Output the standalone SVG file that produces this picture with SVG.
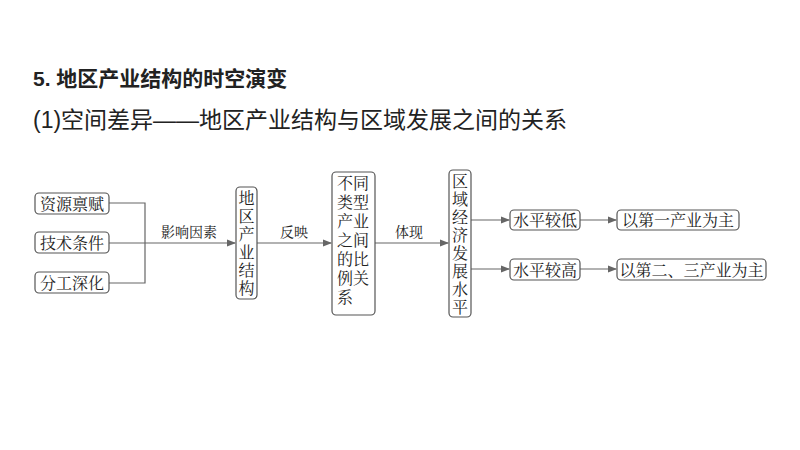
<svg xmlns="http://www.w3.org/2000/svg" width="800" height="450" viewBox="0 0 800 450">
<defs>
<style>
text{font-family:"Liberation Serif","Noto Serif CJK SC","Noto Sans CJK SC",serif;fill:#222}
.b{fill:#fff;stroke:#555;stroke-width:1.2}
.t{font-size:16px}
.l{font-size:14px}
.c{fill:none;stroke:#666;stroke-width:1.2}
</style>
<marker id="a" markerWidth="8" markerHeight="6" refX="7" refY="3" orient="auto"><path d="M0,0 L8,3 L0,6 Z" fill="#666"/></marker>
</defs>
<rect width="800" height="450" fill="#fff"/>
<text x="33" y="86" style="font-family:'Liberation Sans','Noto Sans CJK SC',sans-serif;font-size:21px;font-weight:bold">5. 地区产业结构的时空演变</text>
<text x="33" y="128" style="font-family:'Liberation Sans','Noto Sans CJK SC',sans-serif;font-size:23px">(1)空间差异——地区产业结构与区域发展之间的关系</text>
<g id="connectors">
<path class="c" d="M109,203 H145 V283 H109 M109,243 H145 M145,243 H235" marker-end="url(#a)"/>
<path class="c" d="M257,243 H331" marker-end="url(#a)"/>
<path class="c" d="M375,243 H448" marker-end="url(#a)"/>
<path class="c" d="M471,220 H509" marker-end="url(#a)"/>
<path class="c" d="M471,269 H509" marker-end="url(#a)"/>
<path class="c" d="M580,220 H616" marker-end="url(#a)"/>
<path class="c" d="M580,269 H616" marker-end="url(#a)"/>
<text class="l" x="161" y="237">影响因素</text>
<text class="l" x="280" y="237">反映</text>
<text class="l" x="395" y="237">体现</text>
</g>
<g id="n1"><rect class="b" x="35" y="193" width="74" height="21" rx="4"/><text class="t" x="72" y="209.5" text-anchor="middle">资源禀赋</text></g>
<g id="n2"><rect class="b" x="35" y="232" width="74" height="21" rx="4"/><text class="t" x="72" y="248.5" text-anchor="middle">技术条件</text></g>
<g id="n3"><rect class="b" x="35" y="272" width="74" height="21" rx="4"/><text class="t" x="72" y="288.5" text-anchor="middle">分工深化</text></g>
<g id="n4"><rect class="b" x="236" y="187" width="21" height="112" rx="4"/>
<text class="t" text-anchor="middle"><tspan x="246.5" y="204">地</tspan><tspan x="246.5" y="222">区</tspan><tspan x="246.5" y="240">产</tspan><tspan x="246.5" y="258">业</tspan><tspan x="246.5" y="276">结</tspan><tspan x="246.5" y="294">构</tspan></text></g>
<g id="n5"><rect class="b" x="332" y="172" width="43" height="143" rx="4"/>
<text class="t"><tspan x="337" y="189">不同</tspan><tspan x="337" y="208">类型</tspan><tspan x="337" y="227">产业</tspan><tspan x="337" y="246">之间</tspan><tspan x="337" y="265">的比</tspan><tspan x="337" y="284">例关</tspan><tspan x="337" y="303">系</tspan></text></g>
<g id="n6"><rect class="b" x="449" y="170" width="22" height="147" rx="4"/>
<text class="t" text-anchor="middle"><tspan x="460" y="187">区</tspan><tspan x="460" y="205">域</tspan><tspan x="460" y="223">经</tspan><tspan x="460" y="241">济</tspan><tspan x="460" y="259">发</tspan><tspan x="460" y="277">展</tspan><tspan x="460" y="295">水</tspan><tspan x="460" y="313">平</tspan></text></g>
<g id="n7"><rect class="b" x="510" y="210" width="70" height="20" rx="4"/><text class="t" x="545" y="226" text-anchor="middle">水平较低</text></g>
<g id="n8"><rect class="b" x="510" y="259" width="70" height="21" rx="4"/><text class="t" x="545" y="275.5" text-anchor="middle">水平较高</text></g>
<g id="n9"><rect class="b" x="617" y="210" width="122" height="20" rx="4"/><text class="t" x="678" y="226" text-anchor="middle">以第一产业为主</text></g>
<g id="n10"><rect class="b" x="617" y="259" width="149" height="21" rx="4"/><text class="t" x="691.5" y="275.5" text-anchor="middle">以第二、三产业为主</text></g>
</svg>
